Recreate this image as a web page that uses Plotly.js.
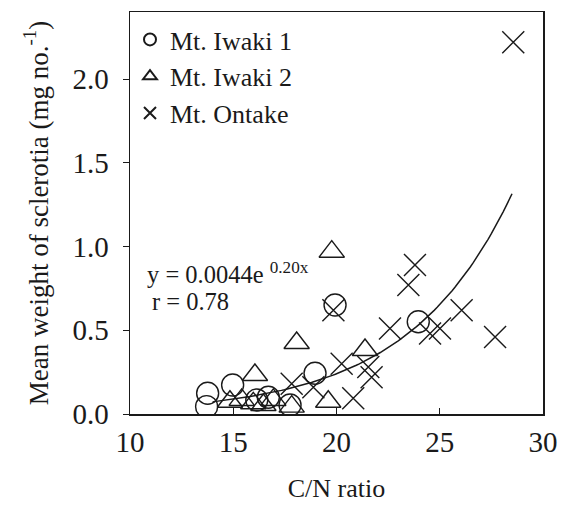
<!DOCTYPE html>
<html>
<head>
<meta charset="utf-8">
<script src="https://cdn.plot.ly/plotly-3.0.1.min.js"></script>
<style>html,body{margin:0;padding:0;background:#fff;}#chart{width:567px;height:513px;}</style>
</head>
<body>
<div id="chart"></div>
<script>
// Mt. Iwaki 1 (circles)
const iwaki1X = [13.76, 13.71, 14.97, 16.14, 16.7, 17.75, 18.96, 19.93, 23.96];
const iwaki1Y = [0.124, 0.044, 0.173, 0.084, 0.10, 0.054, 0.243, 0.651, 0.551];
// Mt. Iwaki 2 (triangles)
const iwaki2X = [19.77, 18.07, 21.38, 16.05, 14.84, 15.41, 15.97, 16.46, 16.94, 17.83, 19.60];
const iwaki2Y = [0.969, 0.424, 0.382, 0.233, 0.073, 0.084, 0.064, 0.054, 0.084, 0.044, 0.073];
// Mt. Ontake (crosses)
const ontakeX = [28.56, 23.80, 23.48, 19.85, 22.59, 26.06, 25.01, 24.53, 27.68, 20.25, 21.54, 21.7, 20.81, 17.83, 18.88];
const ontakeY = [2.22, 0.89, 0.77, 0.62, 0.51, 0.62, 0.51, 0.48, 0.46, 0.30, 0.28, 0.22, 0.094, 0.18, 0.16];
// Exponential fit y = a * exp(b x)
const fitA = 0.0044;
const fitB = 0.20;
const fitRange = [14.0, 28.5];

const fitX = [], fitY = [];
for (let i = 0; i <= 100; i++) {
  const x = fitRange[0] + (fitRange[1] - fitRange[0]) * i / 100;
  fitX.push(x);
  fitY.push(fitA * Math.exp(fitB * x));
}

const FONT = 'Liberation Serif';
const mk = (sym) => ({symbol: sym, size: 22, color: '#1a1a1a', line: {color: '#1a1a1a', width: 1.4}});

const traces = [
  {x: fitX, y: fitY, mode: 'lines', line: {color: '#1a1a1a', width: 1.5}, showlegend: false, hoverinfo: 'skip'},
  {x: iwaki1X, y: iwaki1Y, mode: 'markers', name: 'Mt. Iwaki 1', marker: mk('circle-open')},
  {x: iwaki2X, y: iwaki2Y, mode: 'markers', name: 'Mt. Iwaki 2', marker: mk('triangle-up-open')},
  {x: ontakeX, y: ontakeY, mode: 'markers', name: 'Mt. Ontake', marker: mk('x-thin-open')}
];

const layout = {
  width: 567, height: 513,
  margin: {l: 130, r: 24, t: 12, b: 99},
  paper_bgcolor: '#fff', plot_bgcolor: '#fff',
  font: {family: FONT, color: '#1a1a1a', size: 24},
  showlegend: true,
  legend: {x: 0.0, y: 0.99, xanchor: 'left', yanchor: 'top', bgcolor: 'rgba(0,0,0,0)',
           font: {family: FONT, size: 26, color: '#1a1a1a'}, itemsizing: 'constant', itemwidth: 30, tracegroupgap: 0},
  xaxis: {
    range: [10, 30], tickvals: [10, 15, 20, 25, 30], ticktext: ['10', '15', '20', '25', '30'],
    ticks: 'inside', ticklen: 6, tickcolor: '#1a1a1a', showgrid: false, zeroline: false,
    showline: true, mirror: true, linecolor: '#1a1a1a', linewidth: 1.5,
    tickfont: {family: FONT, size: 29}, ticklabelstandoff: 2,
    title: {text: 'C/N ratio', font: {family: FONT, size: 26}, standoff: 21}
  },
  yaxis: {
    range: [0, 2.4], tickvals: [0, 0.5, 1.0, 1.5, 2.0], ticktext: ['0.0', '0.5', '1.0', '1.5', '2.0'],
    ticks: 'outside', ticklen: 6, tickcolor: '#1a1a1a', showgrid: false, zeroline: false,
    showline: true, mirror: true, linecolor: '#1a1a1a', linewidth: 1.5,
    tickfont: {family: FONT, size: 29}, ticklabelstandoff: 8,
    title: {text: 'Mean weight of sclerotia (mg no.<sup>-1</sup>)', font: {family: FONT, size: 27}, standoff: 16}
  },
  annotations: [
    {x: 10.75, y: 0.84, xref: 'x', yref: 'y', xanchor: 'left', yanchor: 'middle', showarrow: false,
     text: 'y = 0.0044e <sup>0.20x</sup>', font: {family: FONT, size: 24.5}},
    {x: 10.95, y: 0.67, xref: 'x', yref: 'y', xanchor: 'left', yanchor: 'middle', showarrow: false,
     text: 'r = 0.78', font: {family: FONT, size: 24.5}}
  ]
};

Plotly.newPlot('chart', traces, layout, {displayModeBar: false, staticPlot: true});
</script>
</body>
</html>
